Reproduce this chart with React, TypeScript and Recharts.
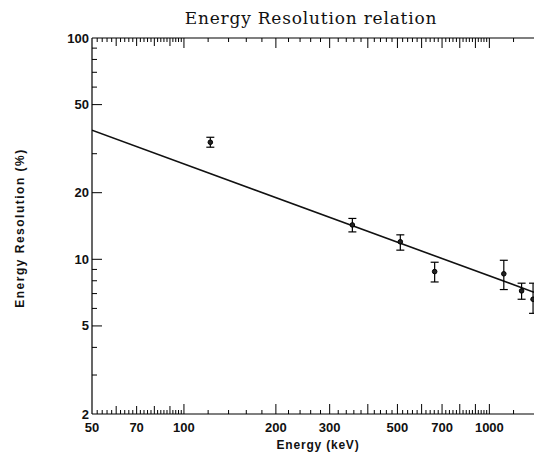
import React from 'react';
import { ComposedChart, XAxis, YAxis, Scatter, Line, ErrorBar } from 'recharts';

// Measured points (energy in keV, resolution in %)
const energies = [122, 356, 511, 662, 1115, 1275, 1390];
const resolution = [33.8, 14.3, 12.0, 8.8, 8.6, 7.2, 6.6];
const resolutionLow = [32.1, 13.3, 11.0, 7.9, 7.3, 6.6, 5.7];
const resolutionHigh = [35.6, 15.3, 12.9, 9.7, 9.9, 7.8, 7.8];

// Fitted power-law line end points
const fitEnergy = [50, 1400];
const fitResolution = [38.3, 7.1];

// Axis ticks
const xLabelTicks = [50, 70, 100, 200, 300, 500, 700, 1000];
const xMajorTicks = [100, 200, 300, 400, 500, 600, 700, 800, 900, 1000];
const xMediumTicks = [60, 70, 80, 90];
const xMinorTicks = [
  52, 54, 56, 58, 62, 64, 66, 68, 72, 74, 76, 78, 82, 84, 86, 88, 92, 94, 96, 98,
  120, 140, 160, 180, 220, 240, 260, 280, 320, 340, 360, 380, 420, 440, 460, 480,
  520, 540, 560, 580, 620, 640, 660, 680, 720, 740, 760, 780, 820, 840, 860, 880,
  920, 940, 960, 980, 1200,
];
const yLabelTicks = [2, 5, 10, 20, 50, 100];
const yMinorTicks = [3, 4, 6, 7, 8, 9, 30, 60, 70, 80, 90];

const X_DOMAIN = [50, 1400];
const Y_DOMAIN = [2, 100];

const pointData = energies.map((e, i) => ({
  x: e,
  y: resolution[i],
  err: [resolution[i] - resolutionLow[i], resolutionHigh[i] - resolution[i]],
}));
const fitData = fitEnergy.map((e, i) => ({ x: e, y: fitResolution[i] }));

const xAllTicks = [50, ...xMediumTicks, ...xMajorTicks, ...xMinorTicks].sort((a, b) => a - b);
const yAllTicks = [...yLabelTicks, ...yMinorTicks].sort((a, b) => a - b);

const LABEL_FONT = '"Liberation Sans", Arial, sans-serif';

const xTickLen = (v: number) =>
  xMajorTicks.includes(v) ? 10 : xMediumTicks.includes(v) || v === 50 ? 8 : 4;

const BottomTick = (props: any) => {
  const { x, y, payload } = props;
  const v = payload.value;
  const len = xTickLen(v);
  return (
    <g>
      {v !== 50 && <line x1={x} y1={y} x2={x} y2={y - len} stroke="#000" strokeWidth={1} />}
      {xLabelTicks.includes(v) && (
        <text
          x={x}
          y={y + 18}
          textAnchor="middle"
          fontFamily={LABEL_FONT}
          fontWeight="bold"
          fontSize={13}
          fill="#111"
        >
          {v}
        </text>
      )}
    </g>
  );
};

const TopTick = (props: any) => {
  const { x, y, payload } = props;
  const v = payload.value;
  if (v === 50) return <g />;
  const len = xTickLen(v);
  return <line x1={x} y1={y} x2={x} y2={y + len} stroke="#000" strokeWidth={1} />;
};

const LeftTick = (props: any) => {
  const { x, y, payload } = props;
  const v = payload.value;
  const labeled = yLabelTicks.includes(v);
  const len = labeled ? 10 : 5;
  return (
    <g>
      {v !== 2 && v !== 100 && (
        <line x1={x} y1={y} x2={x + len} y2={y} stroke="#000" strokeWidth={1} />
      )}
      {labeled && (
        <text
          x={x - 3}
          y={y + 4.5}
          textAnchor="end"
          fontFamily={LABEL_FONT}
          fontWeight="bold"
          fontSize={13}
          fill="#111"
        >
          {v}
        </text>
      )}
    </g>
  );
};

const PointShape = (props: any) => {
  const { cx, cy } = props;
  return <circle cx={cx} cy={cy} r={2.3} fill="#222" stroke="#000" strokeWidth={1} />;
};

export default function App() {
  return (
    <div style={{ position: 'absolute', left: 0, top: 0, width: 534, height: 455, background: '#fff' }}>
      <svg
        width={534}
        height={32}
        style={{ position: 'absolute', left: 0, top: 0, pointerEvents: 'none' }}
      >
        <text
          x={311}
          y={24}
          textAnchor="middle"
          fontFamily='"DejaVu Serif", serif'
          fontSize={17}
          letterSpacing={0.8}
          fill="#111"
        >
          Energy Resolution relation
        </text>
      </svg>
      <ComposedChart
        width={534}
        height={455}
        margin={{ top: 0, right: 0, bottom: 0, left: 0 }}
        style={{ position: 'absolute', left: 0, top: 0 }}
      >
        <XAxis
          dataKey="x"
          type="number"
          scale="log"
          domain={X_DOMAIN}
          ticks={xAllTicks}
          interval={0}
          height={41}
          tickSize={0}
          tickMargin={0}
          tick={<BottomTick />}
          axisLine={{ stroke: '#000', strokeWidth: 1.2 }}
          tickLine={false}
          allowDataOverflow
          label={{
            value: 'Energy (keV)',
            position: 'insideBottom',
            offset: 6,
            dx: 5,
            style: {
              fontFamily: LABEL_FONT,
              fontWeight: 'bold',
              fontSize: 12,
              letterSpacing: 0.8,
              fill: '#111',
            },
          }}
        />
        <XAxis
          xAxisId="top"
          dataKey="x"
          type="number"
          scale="log"
          orientation="top"
          domain={X_DOMAIN}
          ticks={xAllTicks}
          interval={0}
          height={38}
          tickSize={0}
          tickMargin={0}
          tick={<TopTick />}
          axisLine={{ stroke: '#000', strokeWidth: 1.2 }}
          tickLine={false}
          allowDataOverflow
        />
        <YAxis
          dataKey="y"
          type="number"
          scale="log"
          domain={Y_DOMAIN}
          ticks={yAllTicks}
          interval={0}
          width={92}
          tickSize={0}
          tickMargin={0}
          tick={<LeftTick />}
          axisLine={{ stroke: '#000', strokeWidth: 1.2 }}
          tickLine={false}
          allowDataOverflow
          label={{
            value: 'Energy Resolution (%)',
            position: 'insideLeft',
            angle: -90,
            offset: 20,
            dy: 2,
            style: {
              textAnchor: 'middle',
              fontFamily: LABEL_FONT,
              fontWeight: 'bold',
              fontSize: 12,
              letterSpacing: 1.5,
              fill: '#111',
            },
          }}
        />
        <Line
          data={fitData}
          dataKey="y"
          type="linear"
          stroke="#111"
          strokeWidth={1.6}
          dot={false}
          activeDot={false}
          isAnimationActive={false}
        />
        <Scatter data={pointData} dataKey="y" shape={<PointShape />} isAnimationActive={false}>
          <ErrorBar
            dataKey="err"
            direction="y"
            width={4}
            stroke="#000"
            strokeWidth={1.2}
            isAnimationActive={false}
          />
        </Scatter>
      </ComposedChart>
    </div>
  );
}
